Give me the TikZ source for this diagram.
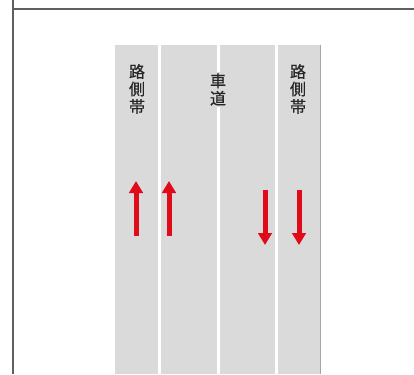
\documentclass[tikz,border=0pt]{standalone}
\usepackage{fontspec}
\newfontfamily\jpfont[FakeBold=0.6]{Noto Sans CJK JP}
\usetikzlibrary{positioning, arrows.meta}
\definecolor{roadgray}{RGB}{218,218,218}
\definecolor{framegray}{RGB}{95,95,95}
\definecolor{arrowred}{RGB}{225,10,25}

\begin{document}
\begin{tikzpicture}[x=1pt, y=-1pt,
    lane/.style={fill=roadgray, draw=none},
    label/.style={font=\jpfont\fontsize{16}{17.5}\selectfont, text=black!85, align=center, inner sep=1pt},
    flow/.style={draw=arrowred, line width=5pt, -{Triangle[width=13.5pt, length=12pt]}}]
    \useasboundingbox (0,0) rectangle (414,374);

    % frame
    \draw[framegray, line width=2.2pt] (13,0) -- (13,374);
    \draw[framegray, line width=2.2pt] (13,9) -- (414,9);

    % road strips
    \fill[lane] (115,45) rectangle (157.5,374);
    \fill[lane] (161,45) rectangle (216.5,374);
    \fill[lane] (219.5,45) rectangle (274.5,374);
    \fill[lane] (277.5,45) rectangle (320,374);
    \draw[black!35, line width=0.8pt] (320,45) -- (320,374);
    \draw[black!15, line width=0.8pt] (115,45) -- (115,374);

    \node[label] (leftside) at (137,89) {路\\側\\帯};
    \node[label, fill=roadgray] (carriageway) at (218,89.5) {車\\道};
    \node[label] (rightside) at (298,89) {路\\側\\帯};

    % traffic directions
    \coordinate (upAtail) at (136,236);
    \coordinate (upAhead) at (136,181);
    \coordinate (upBtail) at (169,236);
    \coordinate (upBhead) at (169,181);
    \coordinate (downAtail) at (265,190);
    \coordinate (downAhead) at (265,245);
    \coordinate (downBtail) at (299,190);
    \coordinate (downBhead) at (299,245);

    \draw[flow] (upAtail) -- (upAhead);
    \draw[flow] (upBtail) -- (upBhead);
    \draw[flow] (downAtail) -- (downAhead);
    \draw[flow] (downBtail) -- (downBhead);
\end{tikzpicture}
\end{document}
